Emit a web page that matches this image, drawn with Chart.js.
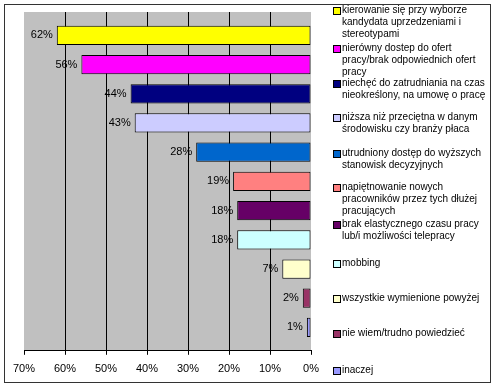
<!DOCTYPE html>
<html>
<head>
<meta charset="utf-8">
<script src="https://cdn.jsdelivr.net/npm/chart.js@4"></script>
<style>
  body { margin: 0; background: #fff; }
  #wrap { position: relative; width: 496px; height: 388px; }
  #frame { position: absolute; left: 4px; top: 4px; width: 485px; height: 377px; border: 1px solid #333; box-sizing: content-box; pointer-events: none; }
  .item { position: absolute; left: 333px; font: 10px "Liberation Sans", Arial, sans-serif; line-height: 12px; color: #000; white-space: nowrap; }
  .item .box { position: absolute; left: 0; top: 3px; width: 6px; height: 6px; border: 1px solid #000; }
  .item .txt { margin-left: 9px; }
</style>
</head>
<body>
<div id="wrap">
  <canvas id="chart" width="496" height="388"></canvas>
  <div id="legend"></div>
  <div id="frame"></div>
</div>
<script>
// answers, one bar each (legend lines kept as they wrap in the original)
const categories = [
  ["kierowanie się przy wyborze", "kandydata  uprzedzeniami i", "stereotypami"],
  ["nierówny dostep do ofert", "pracy/brak odpowiednich ofert", "pracy"],
  ["niechęć do zatrudniania na czas", "nieokreślony, na umowę o pracę"],
  ["niższa niż przeciętna w danym", "środowisku czy branży płaca"],
  ["utrudniony dostęp do wyższych", "stanowisk decyzyjnych"],
  ["napiętnowanie nowych", "pracowników przez tych dłużej", "pracujących"],
  ["brak elastycznego czasu pracy", "lub/i możliwości  telepracy"],
  ["mobbing"],
  ["wszystkie wymienione powyżej"],
  ["nie wiem/trudno powiedzieć"],
  ["inaczej"]
];
const values = [62, 56, 44, 43, 28, 19, 18, 18, 7, 2, 1];
const barColors = ["#FFFF00", "#FF00FF", "#000080", "#CCCCFF", "#0066CC", "#FF8080",
                   "#660066", "#CCFFFF", "#FFFFCC", "#993366", "#9999FF"];
const xTicks = [0, 10, 20, 30, 40, 50, 60, 70];

// legend entry tops (px), the original legend is not evenly spaced
const legendTops = [4, 42, 77, 111, 147, 181, 218, 257, 292, 327, 364];

const legend = document.getElementById("legend");
categories.forEach((lines, i) => {
  const d = document.createElement("div");
  d.className = "item";
  d.style.top = legendTops[i] + "px";
  d.innerHTML = '<span class="box" style="background:' + barColors[i] + '"></span>' +
    '<div class="txt">' + lines.join("<br>") + "</div>";
  legend.appendChild(d);
});

const plotBg = {
  id: "plotBg",
  beforeDraw(chart) {
    const a = chart.chartArea;
    const c = chart.ctx;
    c.save();
    c.fillStyle = "#C0C0C0";
    c.fillRect(a.left, a.top, a.right - a.left, a.bottom - a.top);
    c.restore();
  },
};

const valueLabels = {
  id: "valueLabels",
  afterDatasetsDraw(chart) {
    const c = chart.ctx;
    c.save();
    c.font = '11px "Liberation Sans", Arial, sans-serif';
    c.fillStyle = "#000";
    c.textAlign = "right";
    c.textBaseline = "middle";
    chart.getDatasetMeta(0).data.forEach((bar, i) => {
      c.fillText(values[i] + "%", bar.x - 4, bar.y);
    });
    c.restore();
  },
};

new Chart(document.getElementById("chart"), {
  type: "bar",
  data: {
    datasets: [{
      data: values.map((v, i) => ({ x: v, y: i })),
      backgroundColor: barColors,
      borderColor: "#000",
      borderWidth: 1,
      borderSkipped: false,
      barPercentage: 0.66,
      categoryPercentage: 1,
    }],
  },
  options: {
    indexAxis: "y",
    responsive: false,
    animation: false,
    devicePixelRatio: 1,
    layout: { padding: { left: 24, right: 185, top: 12, bottom: 4 } },
    plugins: { legend: { display: false }, tooltip: { enabled: false } },
    scales: {
      x: {
        type: "linear",
        reverse: true,
        min: 0,
        max: 70,
        afterBuildTicks: (axis) => { axis.ticks = xTicks.map((v) => ({ value: v })); },
        ticks: {
          color: "#000",
          padding: 8,
          font: { family: '"Liberation Sans", Arial, sans-serif', size: 11 },
          callback: (v) => v + "%",
        },
        grid: {
          color: (ctx) => (ctx.tick && (ctx.tick.value === 0 || ctx.tick.value === 70)) ? "rgba(0,0,0,0)" : "#000",
          tickColor: "#000",
          tickLength: 4,
          lineWidth: 1,
        },
        border: { display: true, color: "#000" },
      },
      y: {
        type: "linear",
        reverse: true,
        offset: false,
        min: -0.8,
        max: 10.8,
        display: false,
        grid: { offset: false },
        afterBuildTicks: (axis) => { axis.ticks = values.map((v, i) => ({ value: i })); },
      },
    },
  },
  plugins: [plotBg, valueLabels],
});
</script>
</body>
</html>
